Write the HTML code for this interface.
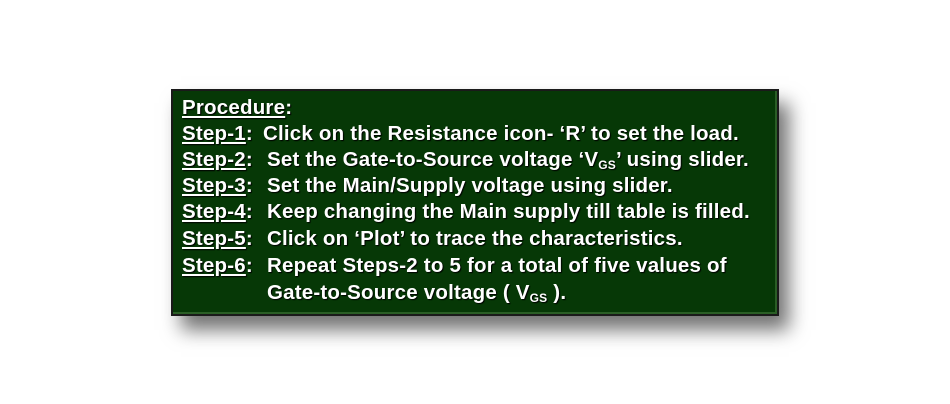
<!DOCTYPE html>
<html><head><style>
body{margin:0;width:950px;height:404px;background:#fff;overflow:hidden;position:relative;font-family:"Liberation Sans",sans-serif;}
.box{position:absolute;left:171px;top:89px;width:604px;height:223px;background:#063806;border:2px solid #1a1a1a;box-shadow:10px 14px 18px rgba(0,0,0,0.55),inset -2px -2px 0 #2a5e25;}
.l{position:absolute;left:9px;color:#fff;font-weight:bold;font-size:20.5px;white-space:nowrap;text-shadow:1px 1px 1px #000;letter-spacing:0.2px}
u{text-decoration:underline}
.t{position:absolute;left:85px}
sub{font-size:12px;vertical-align:-3px}
</style></head><body>
<div class="box">
<div class="l" style="top:5px"><u>Procedure</u>:</div>
<div class="l" style="top:31px"><u>Step-1</u>: <span class="t" style="left:81px">Click on the Resistance icon- ‘R’ to set the load.</span></div>
<div class="l" style="top:57px"><u>Step-2</u>: <span class="t">Set the Gate-to-Source voltage ‘V<sub>GS</sub>’ using slider.</span></div>
<div class="l" style="top:83px"><u>Step-3</u>: <span class="t">Set the Main/Supply voltage using slider.</span></div>
<div class="l" style="top:109px"><u>Step-4</u>: <span class="t">Keep changing the Main supply till table is filled.</span></div>
<div class="l" style="top:136px"><u>Step-5</u>: <span class="t">Click on ‘Plot’ to trace the characteristics.</span></div>
<div class="l" style="top:163px"><u>Step-6</u>: <span class="t">Repeat Steps-2 to 5 for a total of five values of</span></div>
<div class="l" style="top:190px"><span class="t">Gate-to-Source voltage ( V<sub>GS</sub> ).</span></div>
</div>
</body></html>
